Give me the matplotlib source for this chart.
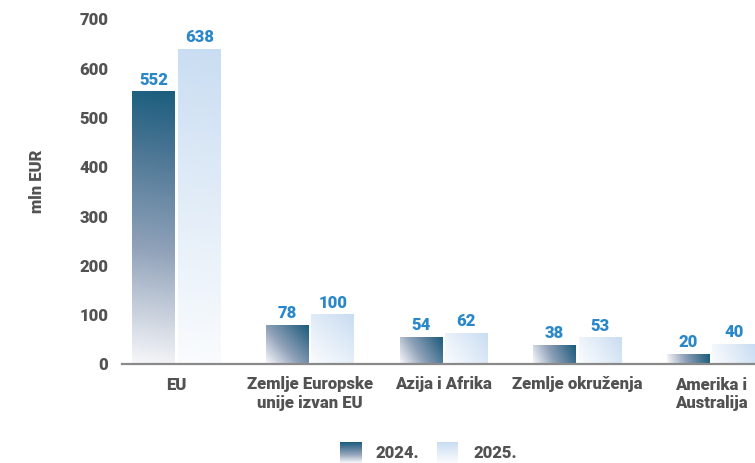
import numpy as np
import matplotlib.pyplot as plt
from matplotlib.colors import LinearSegmentedColormap

categories = ["EU", "Zemlje Europske\nunije izvan EU", "Azija i Afrika",
              "Zemlje okruženja", "Amerika i\nAustralija"]
values_2024 = [552, 78, 54, 38, 20]
values_2025 = [638, 100, 62, 53, 40]
series_labels = ["2024.", "2025."]
y_ticks = [0, 100, 200, 300, 400, 500, 600, 700]

W, H = 755, 463
grey = "#525252"
blue = "#2a88c9"
fs = 12

cmap_2024 = LinearSegmentedColormap.from_list(
    "c24", [(0.0, "#f6f7f9"), (0.125, "#d9dee7"), (0.42, "#90a2b9"),
            (0.82, "#41708f"), (1.0, "#1b5e7e")])
cmap_2025 = LinearSegmentedColormap.from_list(
    "c25", [(0.0, "#fafcfe"), (0.5, "#e3edf8"), (1.0, "#c9ddf2")])

plt.rcParams["font.family"] = ["Roboto", "DejaVu Sans"]
plt.rcParams["font.weight"] = "heavy"

fig = plt.figure(figsize=(W / 100, H / 100), dpi=100)
ax = fig.add_axes([122 / W, 1 - 364 / H, 1 - 122 / W, 345 / H])
xlim = (-0.408, 4.33)
ax.set_xlim(*xlim)
ax.set_ylim(0, 700)

x = np.arange(len(categories))
width = 0.32
off = 0.17
bars_24 = ax.bar(x - off, values_2024, width, color="none")
bars_25 = ax.bar(x + off, values_2025, width, color="none")


def fill_gradient(patch, cmap):
    # diagonal gradient, dark in the top-right corner, white bottom-left
    x0, y0 = patch.get_x(), patch.get_y()
    w, h = patch.get_width(), patch.get_height()
    p0 = ax.transData.transform((x0, y0))
    p1 = ax.transData.transform((x0 + w, y0 + h))
    wp, hp = p1[0] - p0[0], p1[1] - p0[1]
    nx, ny = max(int(wp), 2), max(int(hp), 2)
    u = np.linspace(0, wp, nx)[None, :]
    v = np.linspace(hp, 0, ny)[:, None]
    t = (u * wp + v * hp) / (wp ** 2 + hp ** 2)
    ax.imshow(cmap(t), extent=[x0, x0 + w, y0, y0 + h], aspect="auto",
              interpolation="bilinear", zorder=2)


for p in bars_24:
    fill_gradient(p, cmap_2024)
for p in bars_25:
    fill_gradient(p, cmap_2025)
ax.set_xlim(*xlim)
ax.set_ylim(0, 700)

# value labels
for bars, vals in [(bars_24, values_2024), (bars_25, values_2025)]:
    for p, v in zip(bars, vals):
        ax.annotate(str(v), (p.get_x() + p.get_width() / 2, v),
                    xytext=(0, 3), textcoords="offset points",
                    ha="center", va="bottom", color=blue,
                    fontsize=fs, fontweight="heavy", zorder=3)

for s in ["top", "right", "left"]:
    ax.spines[s].set_visible(False)
ax.spines["bottom"].set_color("#8a8a8a")
ax.spines["bottom"].set_linewidth(1.6)
ax.spines["bottom"].set_zorder(4)

ax.set_yticks(y_ticks)
ax.tick_params(axis="y", length=0, pad=10, labelsize=fs, labelcolor=grey)
ax.set_xticks(x)
ax.set_xticklabels(categories)
ax.tick_params(axis="x", length=0, pad=9, labelsize=fs, labelcolor=grey)

fig.text(37 / W, 1 - 181 / H, "mln EUR", rotation=90, ha="center",
         va="center", fontsize=fs, fontweight="heavy", color=grey)

# legend
for lx, tx, cmap, lab in [(340, 375, cmap_2024, series_labels[0]),
                          (437, 473, cmap_2025, series_labels[1])]:
    lax = fig.add_axes([lx / W, 0, 21 / W, 21 / H])
    grad = np.linspace(1, 0, 50)[:, None] * np.ones((1, 10))
    lax.imshow(cmap(grad), aspect="auto", extent=[0, 1, 0, 1])
    lax.axis("off")
    fig.text(tx / W, 1 - 453 / H, lab, ha="left", va="center",
             fontsize=fs, fontweight="heavy", color=grey)

fig.savefig("out.png", dpi=100)
